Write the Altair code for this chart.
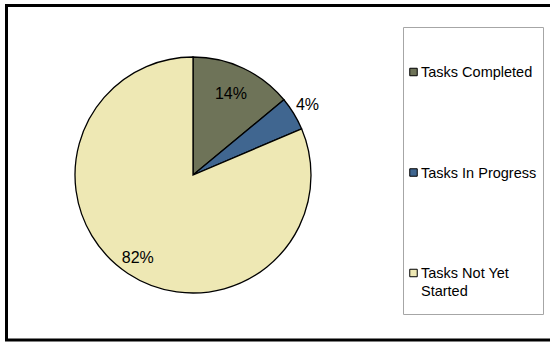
import altair as alt
import pandas as pd

categories = ["Tasks Completed", "Tasks In Progress", "Tasks Not Yet Started"]
values = [14, 4.6, 81.4]
labels = ["14%", "4%", "82%"]
legend_text = ["Tasks Completed", "Tasks In Progress", "Tasks Not Yet\nStarted"]
colors = ["#6E7358", "#406690", "#EEE8B4"]
order_idx = [0, 1, 2]

df = pd.DataFrame({"cat": categories, "value": values, "label": labels,
                   "legend": legend_text, "k": order_idx})
one = pd.DataFrame({"z": [0]})

FONT = "Liberation Sans"
CX, CY, R = 193, 175, 118

base = alt.Chart(df)
color = alt.Color("cat:N", scale=alt.Scale(domain=categories, range=colors), legend=None)
theta = alt.Theta("value:Q", stack=True)
order = alt.Order("k:Q")

border = alt.Chart(one).mark_rect(filled=False, stroke="black", strokeWidth=3).encode(
    x=alt.value(6.5), x2=alt.value(551.5), y=alt.value(5.5), y2=alt.value(340)
)
legend_box = alt.Chart(one).mark_rect(filled=False, stroke="#A6A6A6", strokeWidth=1).encode(
    x=alt.value(403.5), x2=alt.value(543.5), y=alt.value(27.5), y2=alt.value(314.5)
)

pie = base.mark_arc(outerRadius=R, stroke="black", strokeWidth=1.3).encode(
    theta=theta, color=color, order=order, x=alt.value(CX), y=alt.value(CY)
)

def pie_label(cat, r):
    return base.mark_text(radius=r, fontSize=16, font=FONT, color="black").encode(
        theta=theta, order=order, x=alt.value(CX), y=alt.value(CY),
        text=alt.condition(alt.datum.cat == cat, "label:N", alt.value("")),
    )

lab1 = pie_label("Tasks Completed", 89)
lab2 = pie_label("Tasks In Progress", 134)
lab3 = pie_label("Tasks Not Yet Started", 100)

ypos = alt.Y("cat:N", scale=alt.Scale(domain=categories, range=[72, 273], padding=0), axis=None)

leg_sym = base.mark_square(size=56, stroke="black", strokeWidth=1, filled=True, opacity=1).encode(
    x=alt.value(413.5), y=ypos, color=color
)
leg_txt = base.mark_text(align="left", baseline="alphabetic", dy=5, fontSize=14.5, font=FONT,
                         lineBreak="\n", lineHeight=17.5, color="black").encode(
    x=alt.value(421), y=ypos, text="legend:N"
)

chart = alt.layer(border, legend_box, pie, lab1, lab2, lab3, leg_sym, leg_txt).properties(
    width=550, height=343, padding=0,
    autosize=alt.AutoSizeParams(type="none"),
    background="white",
).configure_view(strokeWidth=0)

chart.save("out.html", embed_options={"renderer": "svg", "actions": False})
